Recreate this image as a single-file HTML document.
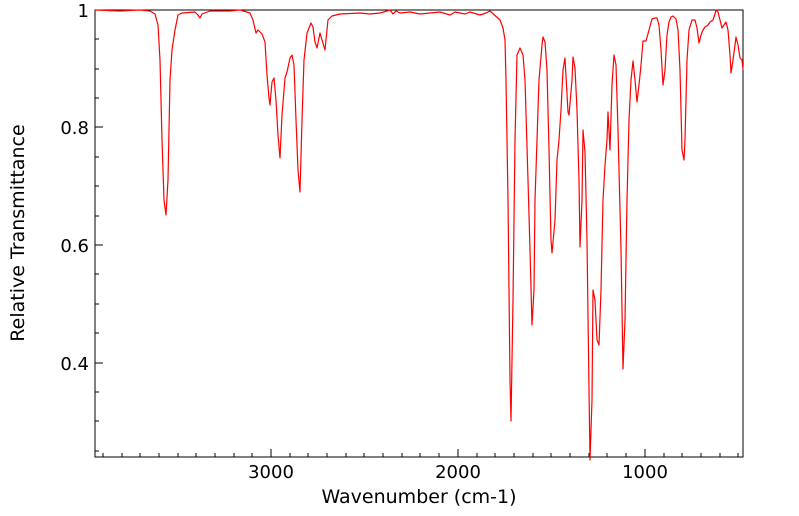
<!DOCTYPE html>
<html><head><style>body{margin:0;background:#fff}svg{display:block}text{font-family:"DejaVu Sans","Liberation Sans",sans-serif;fill:#000}</style></head><body>
<svg width="799" height="516" viewBox="0 0 799 516">
<rect x="95" y="10" width="648" height="447" fill="none" stroke="#000" stroke-width="1"/>
<g stroke="#000" stroke-width="1">
<path d="M271,457v-8M458,457v-8M645,457v-8"/>
<path d="M103,457v-4M122,457v-4M140,457v-4M159,457v-4M178,457v-4M196,457v-4M215,457v-4M234,457v-4M252,457v-4M290,457v-4M308,457v-4M327,457v-4M346,457v-4M364,457v-4M383,457v-4M402,457v-4M420,457v-4M439,457v-4M477,457v-4M495,457v-4M514,457v-4M533,457v-4M551,457v-4M570,457v-4M589,457v-4M607,457v-4M626,457v-4M664,457v-4M682,457v-4M701,457v-4M720,457v-4M738,457v-4"/>
<path d="M95,127h8M95,245h8M95,363h8"/>
<path d="M95,39h4M95,69h4M95,98h4M95,157h4M95,186h4M95,216h4M95,274h4M95,304h4M95,333h4M95,392h4M95,421h4M95,451h4"/>
</g>
<g font-size="18">
<text x="89" y="17" text-anchor="end">1</text>
<text x="89" y="134" text-anchor="end">0.8</text>
<text x="89" y="252" text-anchor="end">0.6</text>
<text x="89" y="370" text-anchor="end">0.4</text>
<text x="271" y="478" text-anchor="middle">3000</text>
<text x="458" y="478" text-anchor="middle">2000</text>
<text x="645" y="478" text-anchor="middle">1000</text>
</g>
<g font-size="19">
<text x="419" y="503" text-anchor="middle">Wavenumber (cm-1)</text>
<text transform="translate(24,233) rotate(-90)" text-anchor="middle">Relative Transmittance</text>
</g>
<polyline fill="none" stroke="#f00" stroke-width="1.2" stroke-linejoin="round" points="95,10 120,11 140,10 150,11 155,14 158,25 160,60 162,140 164,200 166,215 168,180 170,80 172,50 175,30 178,15 182,13 195,12 198,15 200,18 202,14 210,11 230,11 240,10 250,13 253,20 256,33 258,30 262,34 265,42 267,75 269,98 270,105 272,82 274,78 276,100 278,135 280,158 282,115 285,78 287,72 290,58 292,55 294,65 296,120 298,170 300,192 302,120 304,60 307,33 311,23 313,27 315,42 317,48 320,33 322,40 325,50 328,20 332,16 340,14 360,13 370,14 380,13 390,10 393,14 396,11 400,13 410,12 420,14 430,13 440,12 450,15 455,12 465,14 470,12 480,15 486,13 490,11 500,20 503,28 505,40 506,80 508,200 510,380 511,421 513,300 515,140 517,55 520,48 523,55 525,80 528,180 530,250 532,325 534,290 535,200 537,140 539,80 542,45 543,37 545,42 547,70 549,150 551,240 552,253 555,220 557,160 559,140 561,110 563,70 565,58 568,112 569,115 572,80 573,57 575,68 577,110 579,180 580,247 582,200 583,130 585,152 587,240 589,390 590,460 592,400 593,290 595,300 597,340 599,345 601,290 603,200 605,165 607,140 608,112 610,150 612,85 614,55 616,65 618,130 621,250 623,369 625,320 627,200 629,120 631,80 633,61 635,80 637,102 639,85 641,65 643,41 646,41 649,30 652,19 655,18 657,18 659,25 661,50 663,85 665,70 667,35 669,22 671,17 673,16 676,19 678,30 680,70 682,150 684,160 685,140 687,60 689,30 692,20 695,20 697,28 699,43 701,35 703,30 705,27 708,25 710,22 713,20 715,14 716,10 718,12 720,20 722,28 724,25 726,22 728,30 730,55 731,73 733,60 735,45 736,37 738,45 740,58 742,60 743,70"/>
</svg>
</body></html>
